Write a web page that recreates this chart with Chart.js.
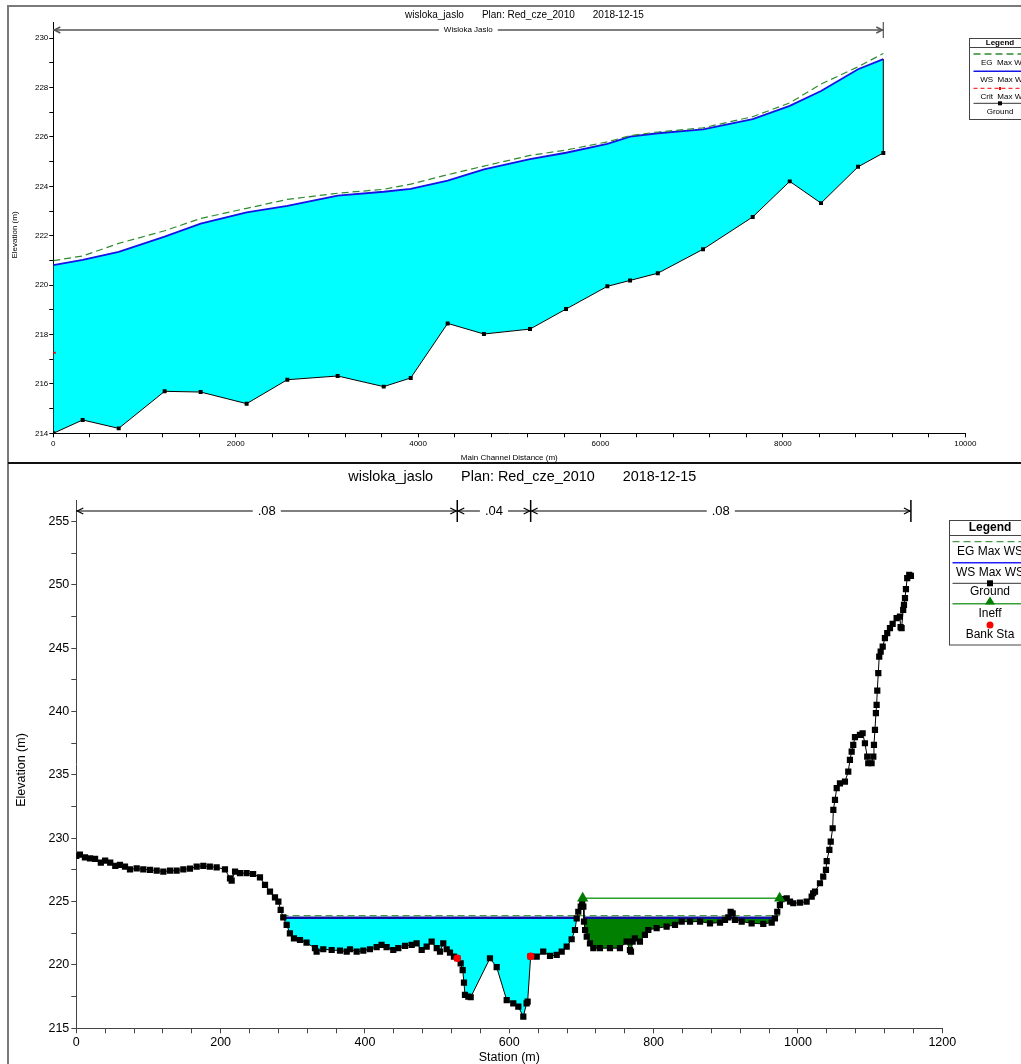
<!DOCTYPE html>
<html>
<head>
<meta charset="utf-8">
<title>wisloka_jaslo – Red_cze_2010</title>
<script src="https://cdn.jsdelivr.net/npm/chart.js@4.4.1/dist/chart.umd.min.js"></script>
<style>
  html, body { margin: 0; padding: 0; background: #fff; }
  body { width: 1021px; height: 1064px; position: relative; overflow: hidden; }
  #profileBox { position: absolute; left: 0; top: 0; width: 1021px; height: 463px; }
  #sectionBox { position: absolute; left: 0; top: 463px; width: 1021px; height: 601px; }
  canvas { display: block; }
  .frame { position: absolute; pointer-events: none; }
</style>
</head>
<body>
<div id="profileBox"><canvas id="profile" width="1021" height="463"></canvas></div>
<div id="sectionBox"><canvas id="section" width="1021" height="601"></canvas></div>
<div class="frame" style="left:7px;top:5px;width:1020px;height:1070px;border-left:2px solid #7a7a7a;border-top:2px solid #7a7a7a;"></div>
<div class="frame" style="left:8px;top:462px;width:1013px;height:2px;background:#111;"></div>
<script>
const FONT = '"Liberation Sans", Arial, Helvetica, sans-serif';

// ---------- Longitudinal profile (upper plot) ----------
const profTitle = ['wisloka_jaslo', 'Plan: Red_cze_2010', '2018-12-15'];
const reachName = 'Wisloka Jaslo';
const profStation = [0, 322, 717, 1221, 1616, 2120, 2566, 3118, 3623, 3919, 4324, 4722,
                     5227, 5622, 6075, 6324, 6628, 7124, 7669, 8075, 8418, 8824, 9101];
const profGround  = [214.00, 214.54, 214.20, 215.70, 215.67, 215.20, 216.17, 216.32, 215.89, 216.24, 218.45, 218.02,
                     218.22, 219.03, 219.95, 220.19, 220.48, 221.45, 222.76, 224.20, 223.32, 224.79, 225.35];
const profWS      = [220.81, 221.02, 221.35, 221.96, 222.49, 222.95, 223.21, 223.62, 223.78, 223.90, 224.23, 224.69,
                     225.10, 225.36, 225.72, 226.01, 226.15, 226.31, 226.72, 227.26, 227.86, 228.74, 229.15];
const profEG      = [220.99, 221.18, 221.69, 222.20, 222.70, 223.11, 223.47, 223.72, 223.88, 224.09, 224.47, 224.82,
                     225.25, 225.47, 225.80, 226.05, 226.20, 226.37, 226.82, 227.38, 228.14, 228.84, 229.38];
const critStation = [0];
const critElev    = [217.26];
const profDistLabels = [0, 2000, 4000, 6000, 8000, 10000];
const profElevLabels = [214, 216, 218, 220, 222, 224, 226, 228, 230];

// ---------- Cross section (lower plot) ----------
const xsTitle = ['wisloka_jaslo', 'Plan: Red_cze_2010', '2018-12-15'];
const xsStation = [
  0, 5, 12, 19, 26, 34, 40, 47, 54, 60.5, 67.5, 74.4, 83.7, 92.8, 102, 111.4, 120.6, 129.8, 139, 148.3,
  157.5, 166.8, 176, 185, 194.5, 206, 213, 215.3, 220, 226.8, 236, 245, 254.5, 261.5, 268.4, 275.3, 280,
  283.2, 286.8, 291.5, 296, 301.6, 310, 319, 330.7, 333, 342.2, 353.9, 365.4, 374.7, 379.3, 388.5, 397.7,
  406.9, 416.2, 423, 430, 439.2, 446.2, 455.5, 464.7, 471.6, 478.6, 485.5, 492.4, 499.4, 504, 508.5, 513.2,
  517.8, 523.3, 527.9, 532.6, 535.4, 537.2, 538.6, 543.2, 546.5, 573.2, 582.5, 596.4, 605.5, 612.5, 619.4,
  624, 625.4, 629.6, 638, 647, 656.4, 665.7, 672.6, 679.5, 686.4, 691, 693.4, 695.6, 699, 701, 702.6,
  703.5, 705, 707.3, 711.8, 716.4, 725.6, 739.5, 753.3, 762.6, 767.2, 768.6, 770.9, 774, 781, 787.9, 792.6,
  804.2, 818, 829.6, 838.9, 850.4, 864.3, 878.1, 892, 898.9, 903.5, 906.7, 909.5, 912.7, 922, 935.8, 951.9,
  963.6, 968.1, 971.3, 975, 977.4, 984.4, 989, 993.5, 1002.8, 1012, 1019, 1021, 1023.6, 1030.5, 1035,
  1038.8, 1039.8, 1043.5, 1045.4, 1048.1, 1049, 1051.3, 1053.7, 1058.2, 1065.1, 1069.7, 1072, 1074.4,
  1076.6, 1079, 1085.9, 1089.6, 1092.8, 1096, 1097.4, 1102, 1104.4, 1105.3, 1106.7, 1108, 1109, 1109.9,
  1111.3, 1112.6, 1114.6, 1117.4, 1120.5, 1123.7, 1127.5, 1131.2, 1136.7, 1141.3, 1142.2, 1143.6, 1145.8,
  1146.9, 1148.3, 1149.6, 1151.4, 1154.2, 1156.5
];
const xsElev = [
  228.60, 228.70, 228.50, 228.42, 228.37, 228.08, 228.23, 228.08, 227.82, 227.90, 227.76, 227.55, 227.63,
  227.55, 227.50, 227.44, 227.37, 227.44, 227.44, 227.55, 227.60, 227.76, 227.82, 227.76, 227.71, 227.55,
  226.84, 226.65, 227.37, 227.24, 227.24, 227.18, 226.92, 226.32, 225.78, 225.34, 225.00, 224.34, 223.75,
  223.16, 222.50, 222.10, 221.97, 221.76, 221.32, 221.05, 221.24, 221.18, 221.13, 221.05, 221.24, 221.05,
  221.13, 221.24, 221.40, 221.58, 221.40, 221.18, 221.32, 221.50, 221.58, 221.71, 221.18, 221.44, 221.84,
  221.32, 221.05, 221.71, 221.24, 220.97, 220.65, 220.53, 220.13, 219.60, 218.60, 217.63, 217.50, 217.45,
  220.53, 219.82, 217.23, 216.97, 216.71, 215.92, 216.97, 217.10, 220.68, 220.65, 221.05, 220.71, 220.79,
  221.05, 221.44, 222.03, 222.76, 223.68, 224.20, 224.60, 224.90, 224.60, 223.42, 222.76, 222.23, 221.71,
  221.32, 221.32, 221.32, 221.32, 221.84, 221.18, 221.05, 221.84, 222.10, 221.84, 222.37, 222.76, 222.90,
  223.02, 223.16, 223.42, 223.42, 223.42, 223.29, 223.34, 223.55, 223.76, 224.20, 224.08, 223.55, 223.42,
  223.29, 223.24, 223.34, 223.68, 224.20, 224.73, 225.20, 225.26, 225.00, 224.87, 224.92, 225.00, 225.39,
  225.66, 225.79, 226.45, 226.97, 227.50, 228.20, 229.08, 229.73, 230.79, 232.24, 233.03, 233.95, 234.34,
  234.47, 235.26, 236.18, 236.84, 237.37, 237.98, 238.16, 238.29, 237.50, 236.44, 235.92, 235.92, 236.44,
  237.37, 238.55, 239.87, 240.53, 241.66, 243.03, 244.34, 244.74, 245.13, 245.79, 246.19, 246.58, 246.92,
  247.37, 247.50, 246.66, 246.58, 248.03, 248.42, 248.95, 249.66, 250.53, 250.79, 250.71
];
const wsElev = 223.73;          // WS Max WS
const egElev = 223.90;          // EG Max WS
const wsChannelSta = [286.8, 693.5];
const wsIneffSta   = [703.4, 968.2];
const egSta        = [284.5, 975.0];
const ineffSta  = [701.7, 974.6];
const ineffElev = 225.26;
const bankSta  = [527.9, 629.6];
const bankElev = [220.53, 220.68];
const nValues  = ['.08', '.04', '.08'];
const xsStationLabels = [0, 200, 400, 600, 800, 1000, 1200];
const xsElevLabels = [215, 220, 225, 230, 235, 240, 245, 250, 255];

// ---------- helpers ----------
function ticksBetween(min, max, step) {
  const out = [];
  for (let v = min; v <= max + 1e-9; v += step) out.push({ value: Math.round(v * 1000) / 1000 });
  return out;
}
function pts(xs, ys) { return xs.map((x, i) => ({ x: x, y: ys[i] })); }
function flat(xs, y) { return xs.map(x => ({ x: x, y: y })); }

function chevron(ctx, x, y, dir) {
  ctx.beginPath();
  ctx.moveTo(x - dir * 6, y - 3);
  ctx.lineTo(x, y);
  ctx.lineTo(x - dir * 6, y + 3);
  ctx.stroke();
}
function dimLine(ctx, x1, x2, y, label, leftArrow) {
  const w = ctx.measureText(label).width + 10;
  const cx = (x1 + x2) / 2;
  ctx.beginPath();
  ctx.moveTo(x1, y); ctx.lineTo(cx - w / 2, y);
  ctx.moveTo(cx + w / 2, y); ctx.lineTo(x2, y);
  ctx.stroke();
  if (leftArrow) chevron(ctx, x1 + 1, y, -1);
  chevron(ctx, x2 - 1, y, 1);
  ctx.fillText(label, cx, y);
}
function drawTitleParts(ctx, parts, x0, y, gap) {
  ctx.textAlign = 'left';
  let x = x0;
  parts.forEach(p => { ctx.fillText(p, x, y); x += ctx.measureText(p).width + gap; });
}
function hline(ctx, x1, x2, y, color, width, dash) {
  ctx.save();
  ctx.strokeStyle = color; ctx.lineWidth = width; ctx.setLineDash(dash || []);
  ctx.beginPath(); ctx.moveTo(x1, y); ctx.lineTo(x2, y); ctx.stroke();
  ctx.restore();
}

const EG_COLOR = '#2e8b2e';
const WS_TOP = '#1414e6';
const WS_BOT = '#1010a0';

// ---------- decorations for the profile ----------
const profileDecor = {
  id: 'profileDecor',
  afterDraw(chart) {
    const { ctx, scales: { x, y } } = chart;
    ctx.save();
    ctx.fillStyle = '#000';
    ctx.textBaseline = 'middle';

    ctx.font = `10px ${FONT}`;
    drawTitleParts(ctx, profTitle, 405, 15.5, 18);

    // reach extent
    ctx.strokeStyle = '#555'; ctx.lineWidth = 1.5;
    ctx.font = `8px ${FONT}`; ctx.textAlign = 'center';
    const rx1 = x.getPixelForValue(profStation[0]);
    const rx2 = x.getPixelForValue(profStation[profStation.length - 1]);
    dimLine(ctx, rx1, rx2, 30, reachName, true);
    ctx.lineWidth = 1.2;
    ctx.beginPath(); ctx.moveTo(rx2, 22); ctx.lineTo(rx2, 38); ctx.stroke();

    // axis titles
    ctx.font = `8px ${FONT}`;
    ctx.fillText('Main Channel Distance (m)', (x.left + x.right) / 2, 457.5);
    ctx.save();
    ctx.translate(15, 235); ctx.rotate(-Math.PI / 2);
    ctx.fillText('Elevation (m)', 0, 0);
    ctx.restore();

    // legend
    const L = 969.5, T = 38.5, B = 119.5, R = 1040, cx = 1000;
    ctx.strokeStyle = '#444'; ctx.lineWidth = 1;
    ctx.strokeRect(L, T, R - L, B - T);
    ctx.beginPath(); ctx.moveTo(L, 47.5); ctx.lineTo(R, 47.5); ctx.stroke();
    ctx.font = `bold 8px ${FONT}`; ctx.fillText('Legend', cx, 43);
    ctx.font = `8px ${FONT}`;
    hline(ctx, L + 4, R, 54, EG_COLOR, 1.3, [7, 4]);
    ctx.fillText('EG  Max WS', cx + 4, 62.5);
    hline(ctx, L + 4, R, 71.3, WS_TOP, 1.5);
    ctx.fillText('WS  Max WS', cx + 4, 80);
    hline(ctx, L + 4, R, 88.3, '#ff0000', 1, [4, 3]);
    ctx.fillStyle = '#ff0000'; ctx.fillRect(cx - 1, 87, 2, 3); ctx.fillStyle = '#000';
    ctx.fillText('Crit  Max WS', cx + 4, 96.7);
    hline(ctx, L + 4, R, 103.3, '#333', 1);
    ctx.fillRect(cx - 2, 101.3, 4, 4);
    ctx.fillText('Ground', cx, 112);
    ctx.restore();
  }
};

// ---------- decorations for the cross section ----------
const sectionDecor = {
  id: 'sectionDecor',
  afterDraw(chart) {
    const { ctx, scales: { x, y } } = chart;
    ctx.save();
    ctx.fillStyle = '#000';
    ctx.textBaseline = 'middle';

    ctx.font = `14.4px ${FONT}`;
    drawTitleParts(ctx, xsTitle, 348.3, 14.3, 28);

    // Manning's n zones between bank stations
    const breaks = [xsStation[0], bankSta[0], bankSta[1], xsStation[xsStation.length - 1]];
    ctx.strokeStyle = '#000'; ctx.lineWidth = 1.2;
    ctx.font = `13px ${FONT}`; ctx.textAlign = 'center';
    for (let i = 0; i < nValues.length; i++) {
      dimLine(ctx, x.getPixelForValue(breaks[i]), x.getPixelForValue(breaks[i + 1]), 48, nValues[i], true);
    }
    ctx.lineWidth = 1.5;
    for (let i = 1; i < breaks.length; i++) {
      const bx = x.getPixelForValue(breaks[i]);
      ctx.beginPath(); ctx.moveTo(bx, 37); ctx.lineTo(bx, 59); ctx.stroke();
    }

    // axis titles
    ctx.font = `12.5px ${FONT}`;
    ctx.fillText('Station (m)', (x.left + x.right) / 2, 595);
    ctx.save();
    ctx.translate(22, 307); ctx.rotate(-Math.PI / 2);
    ctx.fillText('Elevation (m)', 0, 0);
    ctx.restore();

    // legend
    const L = 949.5, T = 57.5, B = 182, R = 1040, cx = 990;
    ctx.strokeStyle = '#444'; ctx.lineWidth = 1;
    ctx.strokeRect(L, T, R - L, B - T);
    ctx.beginPath(); ctx.moveTo(L, 72.5); ctx.lineTo(R, 72.5); ctx.stroke();
    ctx.font = `bold 12px ${FONT}`; ctx.fillText('Legend', cx, 64.5);
    ctx.font = `12px ${FONT}`;
    hline(ctx, L + 3, R, 78.7, '#4a9a4a', 1.2, [7, 4]);
    ctx.fillText('EG Max WS', cx, 88.7);
    hline(ctx, L + 3, R, 99.7, '#2020ff', 1.5);
    ctx.fillText('WS Max WS', cx, 109.7);
    hline(ctx, L + 3, R, 120.3, '#333', 1);
    ctx.fillRect(cx - 3, 117.3, 6, 6);
    ctx.fillText('Ground', cx, 129);
    hline(ctx, L + 3, R, 140.7, '#3aa03a', 1.5);
    ctx.fillStyle = '#008000';
    ctx.beginPath(); ctx.moveTo(cx, 133.5); ctx.lineTo(cx + 5, 141.5); ctx.lineTo(cx - 5, 141.5); ctx.closePath(); ctx.fill();
    ctx.fillStyle = '#000';
    ctx.fillText('Ineff', cx, 151);
    ctx.fillStyle = '#ff0000';
    ctx.beginPath(); ctx.arc(cx, 162, 3.5, 0, Math.PI * 2); ctx.fill();
    ctx.fillStyle = '#000';
    ctx.fillText('Bank Sta', cx, 171.5);
    ctx.restore();
  }
};

function axisCommon(color, size, tickLen, pad) {
  return {
    grid: { display: true, drawOnChartArea: false, drawTicks: true, tickLength: tickLen, color: color },
    border: { display: true, color: color, width: 1 },
    ticksBase: { autoSkip: false, maxRotation: 0, minRotation: 0, color: '#000', padding: pad,
                 font: { family: FONT, size: size } }
  };
}

// ---------- upper chart ----------
const pa = axisCommon('#000', 8, 4, 2);
new Chart(document.getElementById('profile'), {
  type: 'line',
  data: {
    datasets: [
      { label: 'Ground', data: pts(profStation, profGround), borderColor: '#000', borderWidth: 1,
        pointStyle: 'rect', pointRadius: 2.8, pointBorderWidth: 0, pointBackgroundColor: '#000', order: 0 },
      { label: 'WS Max WS', data: pts(profStation, profWS), borderColor: WS_TOP, borderWidth: 1.8,
        pointRadius: 0, fill: { target: 0, above: '#00ffff', below: 'rgba(0,0,0,0)' }, order: 3 },
      { label: 'EG Max WS', data: pts(profStation, profEG), borderColor: EG_COLOR, borderWidth: 1.2,
        borderDash: [7, 4], pointRadius: 0, fill: false, order: 2 },
      { label: 'Crit Max WS', data: pts(critStation, critElev), borderColor: '#ff0000', borderWidth: 2,
        pointStyle: 'line', pointRadius: 2.5, showLine: false, order: 0 },
      { label: 'end', data: [
          { x: profStation[profStation.length - 1], y: profGround[profGround.length - 1] },
          { x: profStation[profStation.length - 1], y: profWS[profWS.length - 1] }],
        borderColor: '#000', borderWidth: 1, pointRadius: 0, order: 1 }
    ]
  },
  options: {
    responsive: false, animation: false, events: [],
    layout: { padding: { left: 0, right: 55.7, top: 22.1, bottom: 0 } },
    plugins: { legend: { display: false }, tooltip: { enabled: false }, title: { display: false } },
    scales: {
      x: { type: 'linear', min: 0, max: 10000, bounds: 'data',
           afterBuildTicks: s => { s.ticks = ticksBetween(0, 10000, 400); },
           afterFit: s => { s.height = 29.7; },
           ticks: Object.assign({}, pa.ticksBase, { callback: v => profDistLabels.includes(v) ? String(v) : '' }),
           grid: pa.grid, border: pa.border },
      y: { type: 'linear', min: 214, max: 230.65, bounds: 'data',
           afterBuildTicks: s => { s.ticks = ticksBetween(214, 230, 1); },
           afterFit: s => { s.width = 53.3; },
           ticks: Object.assign({}, pa.ticksBase, { padding: 1, callback: v => profElevLabels.includes(v) ? String(v) : '' }),
           grid: pa.grid, border: pa.border }
    }
  },
  plugins: [profileDecor]
});

// ---------- lower chart ----------
const sa = axisCommon('#444', 12.5, 5, 2);
new Chart(document.getElementById('section'), {
  type: 'line',
  data: {
    datasets: [
      { label: 'Ground', data: pts(xsStation, xsElev), borderColor: '#000', borderWidth: 1,
        pointStyle: 'rect', pointRadius: 4.4, pointBorderWidth: 0, pointBackgroundColor: '#000', order: 1 },
      { label: 'WS Max WS', data: flat(wsChannelSta, wsElev), borderColor: WS_BOT, borderWidth: 2.5,
        pointRadius: 0, fill: { target: 0, above: '#00ffff', below: 'rgba(0,0,0,0)' }, order: 4 },
      { label: 'WS Max WS (ineff)', data: flat(wsIneffSta, wsElev), borderColor: WS_BOT, borderWidth: 2.5,
        pointRadius: 0, fill: { target: 0, above: '#007f00', below: 'rgba(0,0,0,0)' }, order: 4 },
      { label: 'EG Max WS', data: flat(egSta, egElev), borderColor: '#4a9a4a', borderWidth: 1.2,
        borderDash: [7, 4], pointRadius: 0, fill: false, order: 3 },
      { label: 'Ineff', data: flat(ineffSta, ineffElev), borderColor: '#2ca02c', borderWidth: 1.5,
        pointStyle: 'triangle', pointRadius: 6.5, pointBackgroundColor: '#007a00', pointBorderColor: '#007a00',
        pointBorderWidth: 0, fill: false, order: 0 },
      { label: 'Bank Sta', data: pts(bankSta, bankElev), showLine: false, pointStyle: 'circle',
        pointRadius: 3.8, pointBackgroundColor: '#ff0000', pointBorderWidth: 0, order: 0 }
    ]
  },
  options: {
    responsive: false, animation: false, events: [],
    layout: { padding: { left: 0, right: 78.7, top: 37, bottom: 0 } },
    plugins: { legend: { display: false }, tooltip: { enabled: false }, title: { display: false } },
    scales: {
      x: { type: 'linear', min: 0, max: 1200, bounds: 'data',
           afterBuildTicks: s => { s.ticks = ticksBetween(0, 1200, 40); },
           afterFit: s => { s.height = 35.7; },
           ticks: Object.assign({}, sa.ticksBase, { callback: v => xsStationLabels.includes(v) ? String(v) : '' }),
           grid: sa.grid, border: sa.border },
      y: { type: 'linear', min: 215, max: 256.7, bounds: 'data',
           afterBuildTicks: s => { s.ticks = ticksBetween(215, 255, 2.5); },
           afterFit: s => { s.width = 76.3; },
           ticks: Object.assign({}, sa.ticksBase, { callback: v => xsElevLabels.includes(v) ? String(v) : '' }),
           grid: sa.grid, border: sa.border }
    }
  },
  plugins: [sectionDecor]
});
</script>
</body>
</html>
